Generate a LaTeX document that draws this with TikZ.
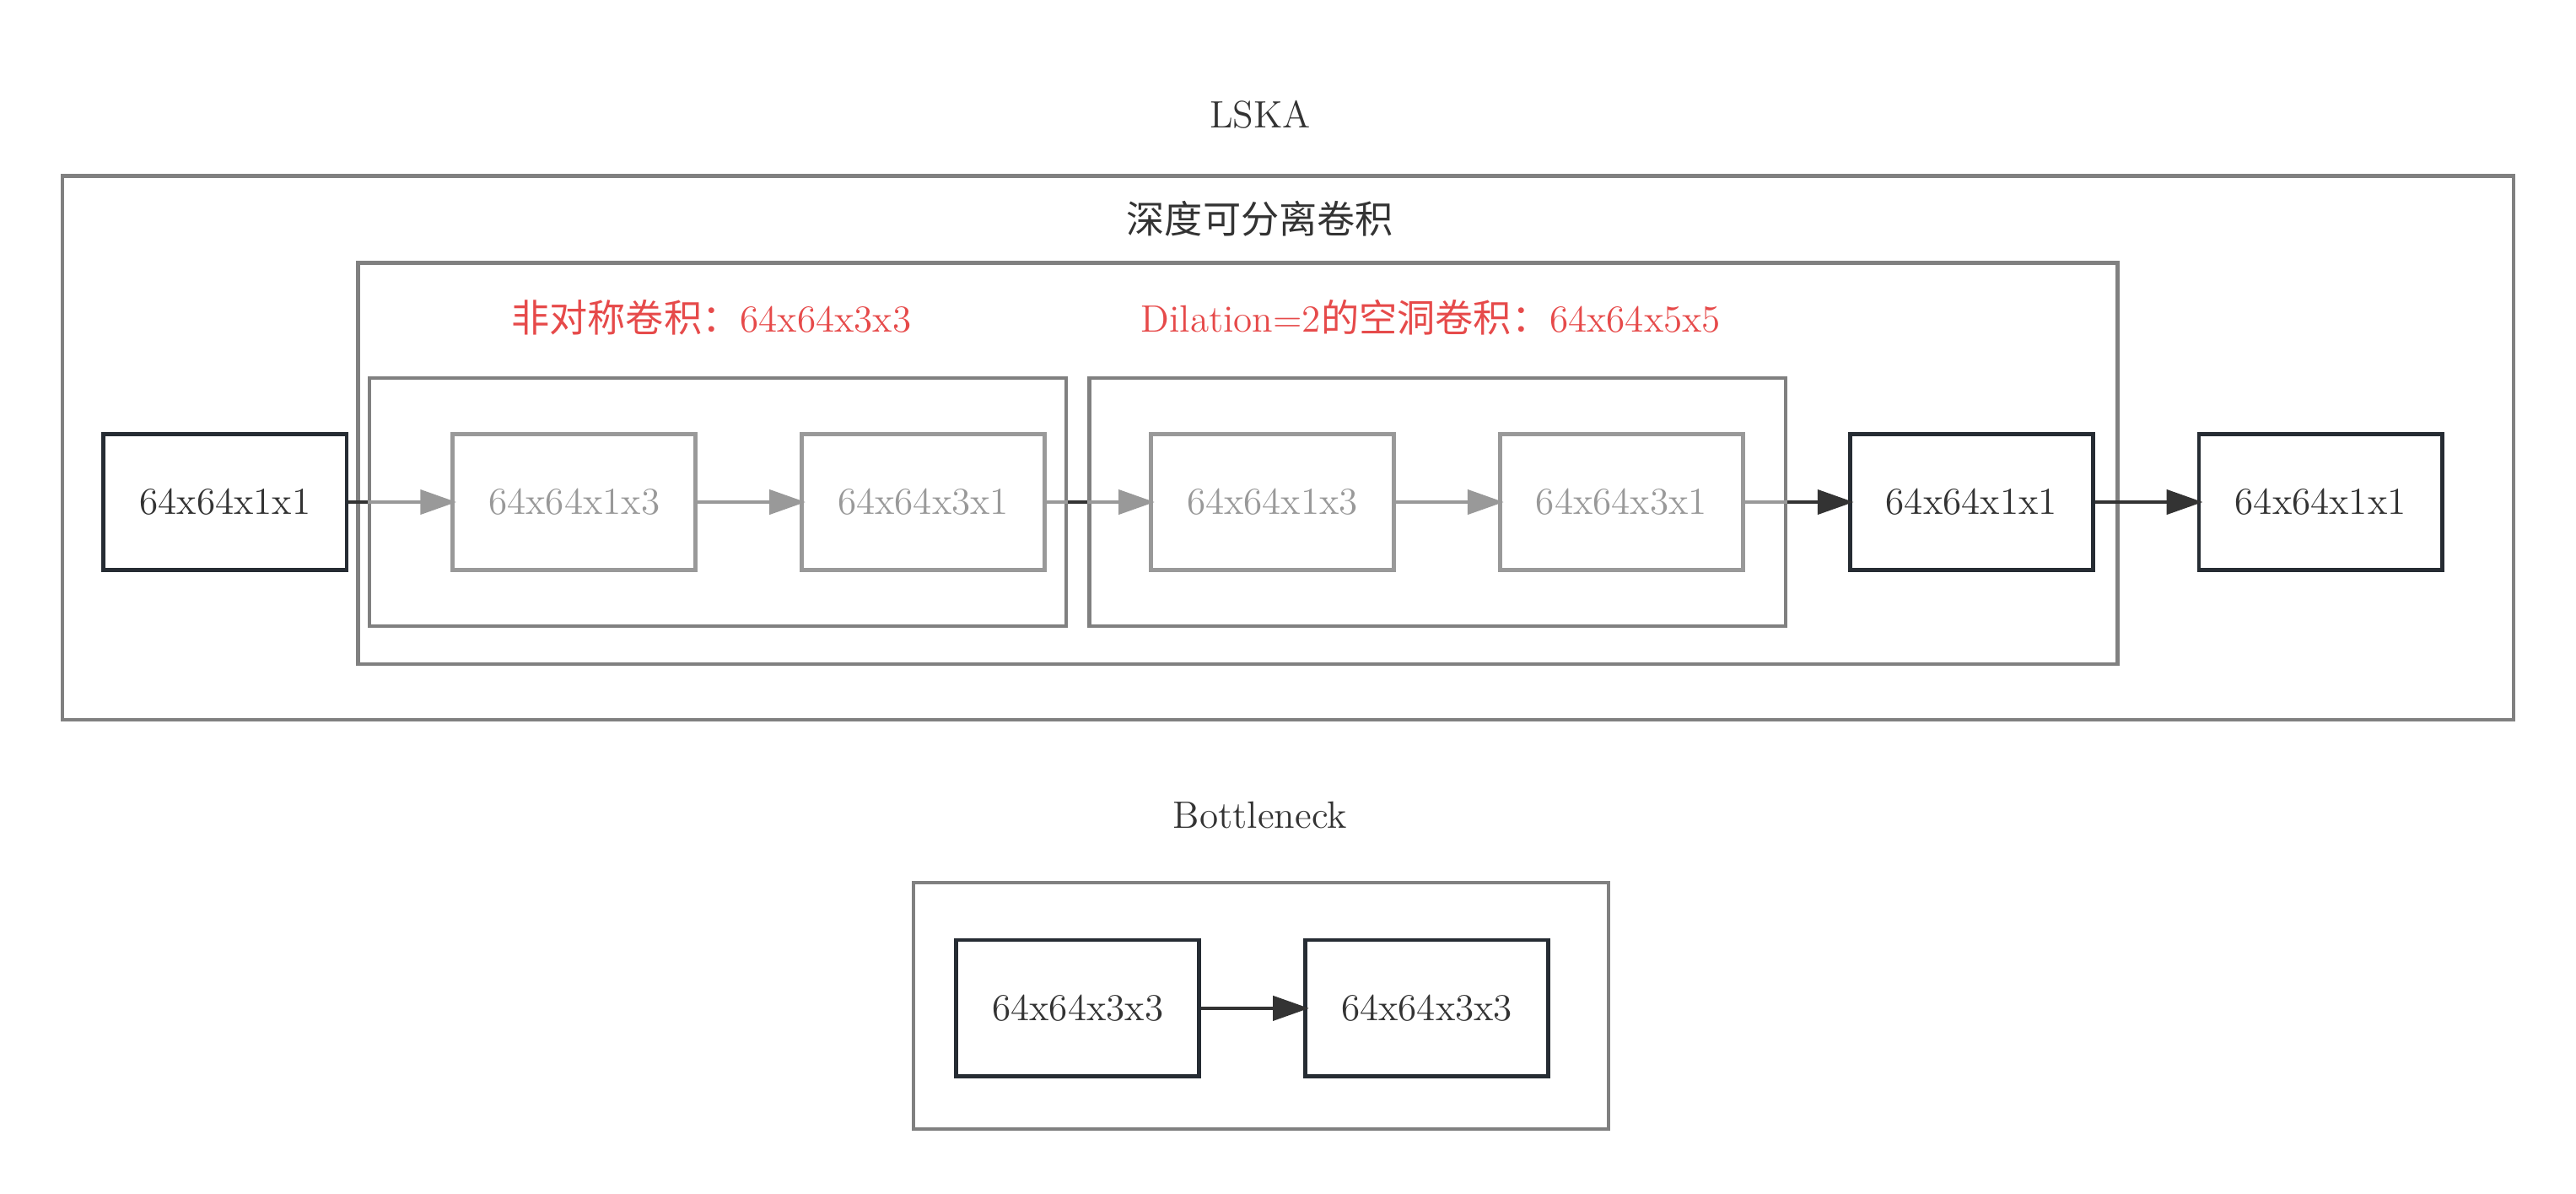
\documentclass[tikz,border=0pt]{standalone}
\usepackage{fontspec}
\newfontfamily\cjk{Noto Sans CJK SC}
\usetikzlibrary{arrows.meta}
\definecolor{framegray}{RGB}{128,128,128}
\definecolor{fadegray}{RGB}{153,153,153}
\definecolor{inkdark}{RGB}{38,44,51}
\definecolor{labelred}{RGB}{230,74,74}

\begin{document}
\begin{tikzpicture}[font=\fontsize{13.2}{16}\selectfont, text=black!80,
    frame/.style={draw=framegray, line width=1.3pt, inner sep=0pt},
    tensor/.style={draw=inkdark, line width=1.4pt, fill=white, minimum width=2.96cm, minimum height=1.66cm, inner sep=0pt},
    faded/.style={tensor, draw=fadegray, text=fadegray},
    flow/.style={-{Triangle[length=12.5pt,width=8.5pt]}, shorten >=-2pt, line width=1.1pt, draw=black!80},
    fadeflow/.style={flow, draw=fadegray},
    darkline/.style={line width=1.1pt, draw=black!80},
    fadeline/.style={line width=1.1pt, draw=fadegray}]

        \useasboundingbox (0,0) rectangle (31.36,14.52);

        % LSKA block
        \node (lskatitle) at (15.34,13.12) {LSKA};
        \node[frame, minimum width=29.84cm, minimum height=6.62cm] (lska) at (15.68,9.07) {};
        \node (dstitle) at (15.34,11.86) {\cjk 深度可分离卷积};
        \node[frame, minimum width=21.42cm, minimum height=4.88cm] (dsconv) at (15.07,8.88) {};
        \node[text=labelred] (asymlabel) at (8.66,10.66) {{\cjk 非对称卷积：}64x64x3x3};
        \node[text=labelred] (dillabel) at (17.42,10.66) {Dilation=2{\cjk 的空洞卷积：}64x64x5x5};
        \node[frame, minimum width=8.48cm, minimum height=3.02cm] (asym) at (8.74,8.41) {};
        \node[frame, minimum width=8.48cm, minimum height=3.02cm] (dil) at (17.50,8.41) {};

        \node[tensor] (n1) at (2.74,8.41) {64x64x1x1};
        \node[faded] (g1) at (6.99,8.41) {64x64x1x3};
        \node[faded] (g2) at (11.24,8.41) {64x64x3x1};
        \node[faded] (g3) at (15.49,8.41) {64x64x1x3};
        \node[faded] (g4) at (19.74,8.41) {64x64x3x1};
        \node[tensor] (n2) at (24.00,8.41) {64x64x1x1};
        \node[tensor] (n3) at (28.25,8.41) {64x64x1x1};

        \draw[fadeflow] (n1) -- (g1);
        \draw[darkline] (n1.east) -- (asym.west);
        \draw[fadeflow] (g1) -- (g2);
        \draw[fadeflow] (g2) -- (g3);
        \draw[darkline] (asym.east) -- (dil.west);
        \draw[fadeflow] (g3) -- (g4);
        \draw[flow] (g4) -- (n2);
        \draw[fadeline] (g4.east) -- (dil.east);
        \draw[flow] (n2) -- (n3);

        % Bottleneck block
        \node (bntitle) at (15.34,4.60) {Bottleneck};
        \node[frame, minimum width=8.46cm, minimum height=3.0cm] (bneck) at (15.35,2.28) {};
        \node[tensor] (b1) at (13.12,2.25) {64x64x3x3};
        \node[tensor] (b2) at (17.37,2.25) {64x64x3x3};
        \draw[flow] (b1) -- (b2);

    \end{tikzpicture}
\end{document}
